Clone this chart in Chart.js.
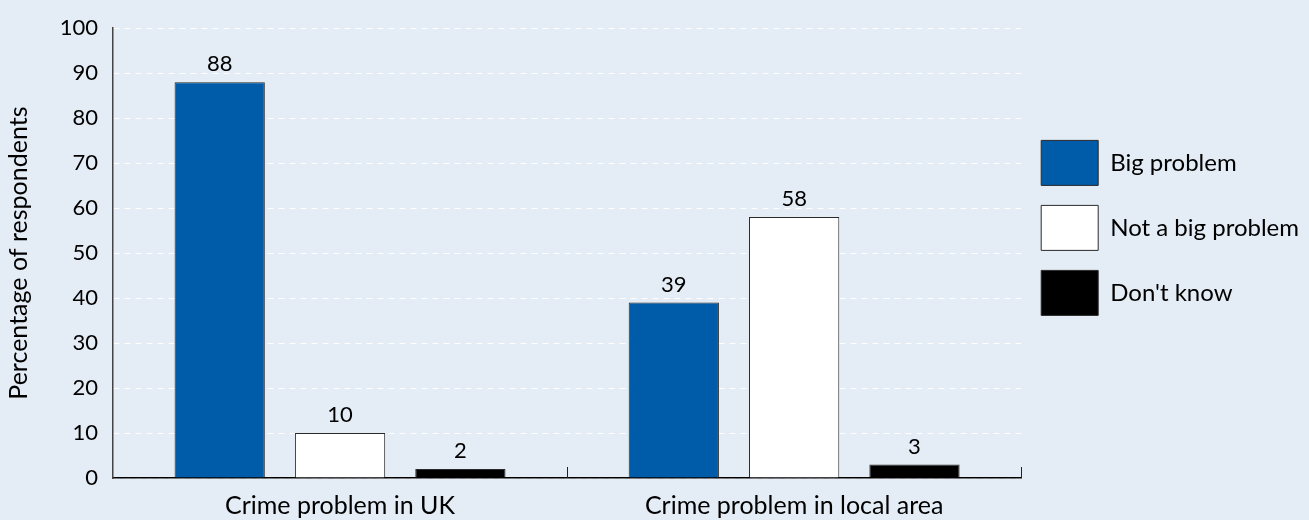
<!DOCTYPE html>
<html>
<head>
<meta charset="utf-8">
<script src="https://cdn.jsdelivr.net/npm/chart.js@4.4.1/dist/chart.umd.min.js"></script>
<style>
  html, body { margin: 0; padding: 0; background: #e4ecf5; }
  #wrap { width: 1309px; height: 520px; }
</style>
</head>
<body>
<div id="wrap"><canvas id="crimeChart"></canvas></div>
<script>
// Categories and series (percentage of respondents)
const categories = ["Crime problem in UK", "Crime problem in local area"];
const bigProblem = [88, 39];
const notBigProblem = [10, 58];
const dontKnow = [2, 3];
const yTicks = [0, 10, 20, 30, 40, 50, 60, 70, 80, 90, 100];

const FONT = "Lato";

// value labels above each bar
const barLabels = {
    id: "barLabels",
    afterDatasetsDraw(chart) {
        const ctx = chart.ctx;
        ctx.save();
        ctx.font = "22px " + FONT;
        ctx.fillStyle = "#000";
        ctx.textAlign = "center";
        ctx.textBaseline = "bottom";
        chart.data.datasets.forEach((ds, i) => {
            chart.getDatasetMeta(i).data.forEach((bar, j) => {
                ctx.fillText(ds.data[j], bar.x, bar.y - 7);
            });
        });
        ctx.restore();
    }
};

// little tick marks between categories, pointing up from the x axis
const catTicks = {
    id: "catTicks",
    afterDraw(chart) {
        const x = chart.scales.x;
        const bottom = chart.chartArea.bottom;
        const ctx = chart.ctx;
        ctx.save();
        ctx.strokeStyle = "#222";
        ctx.lineWidth = 1;
        for (let i = 1; i <= categories.length; i++) {
            const px = Math.round(x.getPixelForValue(i - 0.5)) + 0.5;
            ctx.beginPath();
            ctx.moveTo(px, bottom);
            ctx.lineTo(px, bottom - 11);
            ctx.stroke();
        }
        ctx.restore();
    }
};

new Chart(document.getElementById("crimeChart"), {
    type: "bar",
    data: {
        labels: categories,
        datasets: [
            { label: "Big problem", data: bigProblem, backgroundColor: "#005ba8", borderColor: "#2a2a2a", borderWidth: 1 },
            { label: "Not a big problem", data: notBigProblem, backgroundColor: "#ffffff", borderColor: "#2a2a2a", borderWidth: 1 },
            { label: "Don't know", data: dontKnow, backgroundColor: "#000000", borderColor: "#2a2a2a", borderWidth: 1 }
        ]
    },
    options: {
        responsive: true,
        maintainAspectRatio: false,
        animation: false,
        categoryPercentage: 0.795,
        barPercentage: 0.75,
        layout: { padding: { left: 4, top: 9, right: 0, bottom: 0 } },
        plugins: {
            legend: {
                position: "right",
                align: "start",
                title: { display: true, text: " ", font: { size: 12 }, padding: { top: 97, bottom: 0 } },
                labels: {
                    boxWidth: 57,
                    boxHeight: 45,
                    padding: 20,
                    color: "#000",
                    font: { family: FONT, size: 24 },
                    generateLabels(chart) {
                        return chart.data.datasets.map((ds, i) => ({
                            text: ds.label,
                            fillStyle: ds.backgroundColor,
                            strokeStyle: "#2a2a2a",
                            fontColor: "#000",
                            lineWidth: 1,
                            datasetIndex: i
                        }));
                    }
                }
            },
            tooltip: { enabled: false }
        },
        scales: {
            x: {
                grid: { display: false, drawTicks: false },
                border: { color: "#000", width: 1.5 },
                ticks: { color: "#000", font: { family: FONT, size: 25 }, padding: 13 },
                afterFit(s) { s.height = 42; }
            },
            y: {
                min: 0,
                max: 100,
                afterBuildTicks(s) { s.ticks = yTicks.map(v => ({ value: v })); },
                grid: { color: "#ffffff", lineWidth: 1, drawTicks: false },
                border: { color: "#444", width: 1.5, dash: [6, 5] },
                ticks: { color: "#000", font: { family: FONT, size: 22 }, padding: 15 },
                title: { display: true, text: "Percentage of respondents", color: "#000", font: { family: FONT, size: 25 }, padding: { top: 0, bottom: 10 } },
                afterFit(s) { s.width = 109; }
            }
        }
    },
    plugins: [barLabels, catTicks]
});
</script>
</body>
</html>
